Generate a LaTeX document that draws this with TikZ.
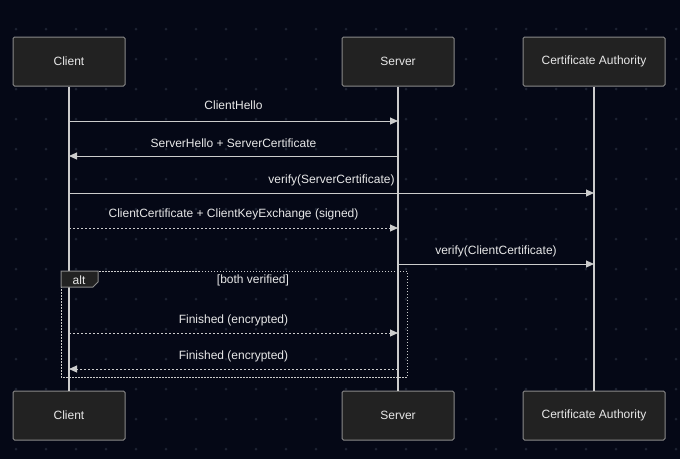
\documentclass[tikz,border=0pt]{standalone}
\usepackage{fontspec}
\setmainfont{Liberation Sans}
\usetikzlibrary{arrows.meta}
\definecolor{bg}{HTML}{050816}
\definecolor{gdot}{HTML}{1D2232}
\definecolor{boxfill}{HTML}{222222}
\definecolor{boxline}{HTML}{8A8A8A}
\definecolor{txt}{HTML}{E8E8E8}
\definecolor{lineC}{HTML}{CCCCCC}
\tikzset{
  actor/.style={draw=boxline, fill=boxfill, line width=1pt, rounded corners=1.5pt,
    minimum height=49pt, text=txt, font=\fontsize{12}{14}\selectfont, inner sep=0pt},
  life/.style={draw=lineC, line width=1.2pt},
  msg/.style={draw=lineC, line width=1pt, -{Triangle[length=8pt,width=7pt]}},
  rmsg/.style={msg, dash pattern=on 2pt off 2pt},
  lbl/.style={text=txt, font=\fontsize{12}{14}\selectfont, inner sep=0pt},
}
\begin{document}
\begin{tikzpicture}[x=1pt,y=-1pt]
\fill[bg] (0,0) rectangle (680,459);
\useasboundingbox (0,0) rectangle (680,459);
\foreach \i in {0,...,22}{\foreach \j in {0,...,15}{
  \fill[gdot] (16+30*\i,29+30*\j) circle (1.5pt);}}
% actors
\node[actor, minimum width=112pt] (cT) at (69,61.5) {Client};
\node[actor, minimum width=112pt] (sT) at (398,61.5) {Server};
\node[actor, minimum width=142pt] (aT) at (594,61.5) {Certificate Authority};
\node[actor, minimum width=112pt] (cB) at (69,415.5) {Client};
\node[actor, minimum width=112pt] (sB) at (398,415.5) {Server};
\node[actor, minimum width=142pt] (aB) at (594,415.5) {Certificate Authority};
\draw[life] (cT.south) -- (cB.north);
\draw[life] (sT.south) -- (sB.north);
\draw[life] (aT.south) -- (aB.north);
% alt frame
\coordinate (altTL) at (61,271);
\coordinate (altBR) at (407,377);
\draw[lineC, line width=1pt, dash pattern=on 1.5pt off 1.5pt] (altTL) rectangle (altBR);
\draw[boxline, fill=boxfill, line width=1pt] (61,271) -- (98,271) -- (98,282) -- (93,287) -- (61,287) -- cycle;
\node[lbl] (altL) at (79,280) {alt};
\node[lbl] (altC) at (253,280.5) {[both verified]};
% messages
\draw[msg] (cT.south |- 0,121) -- (sT.south |- 0,121) node[lbl, midway, yshift=16pt] (l1) {ClientHello};
\draw[msg] (sT.south |- 0,156) -- (cT.south |- 0,156) node[lbl, midway, yshift=13pt] (l2) {ServerHello + ServerCertificate};
\draw[msg] (cT.south |- 0,193) -- (aT.south |- 0,193) node[lbl, midway, yshift=13pt] (l3) {verify(ServerCertificate)};
\draw[rmsg] (cT.south |- 0,228) -- (sT.south |- 0,228) node[lbl, midway, yshift=14pt] (l4) {ClientCertificate + ClientKeyExchange (signed)};
\draw[msg] (sT.south |- 0,264) -- (aT.south |- 0,264) node[lbl, midway, yshift=13pt] (l5) {verify(ClientCertificate)};
\draw[rmsg] (cT.south |- 0,333) -- (sT.south |- 0,333) node[lbl, midway, yshift=13pt] (l6) {Finished (encrypted)};
\draw[rmsg] (sT.south |- 0,369) -- (cT.south |- 0,369) node[lbl, midway, yshift=13pt] (l7) {Finished (encrypted)};
\end{tikzpicture}
\end{document}
